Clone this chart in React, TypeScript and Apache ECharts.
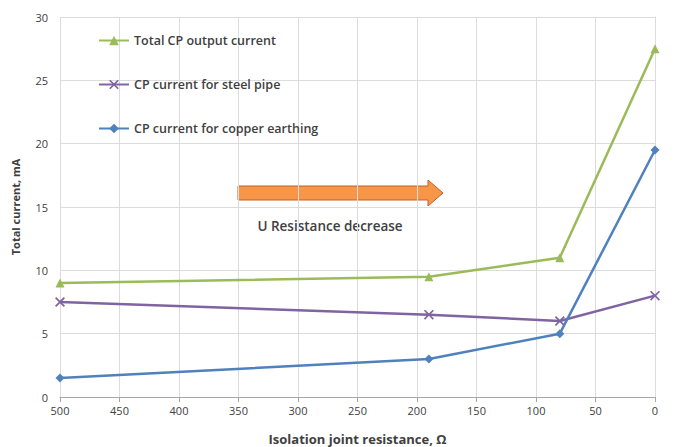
import React, { useEffect, useRef } from "react";
import * as echarts from "echarts";

const resistance = [500, 190, 80, 0];
const totalCurrent = [9.0, 9.5, 11.0, 27.5];
const steelPipe = [7.5, 6.5, 6.0, 8.0];
const copperEarthing = [1.5, 3.0, 5.0, 19.5];
const seriesNames = [
  "Total CP output current",
  "CP current for steel pipe",
  "CP current for copper earthing",
];

const X_SYMBOL =
  "path://M0,1.2L1.2,0L5,3.8L8.8,0L10,1.2L6.2,5L10,8.8L8.8,10L5,6.2L1.2,10L0,8.8L3.8,5Z";

export default function App() {
  const ref = useRef<HTMLDivElement>(null);
  useEffect(() => {
    if (!ref.current) return;
    const chart = echarts.init(ref.current, null, { renderer: "svg" });
    const font = "'Open Sans', 'Liberation Sans', sans-serif";
    const mk = (vals: number[]) => resistance.map((r, i) => [r, vals[i]]);
    chart.setOption({
      animation: false,
      backgroundColor: "#ffffff",
      textStyle: { fontFamily: font },
      grid: { left: 60, right: 20, top: 17, bottom: 50, outerBoundsMode: "none", containLabel: false },
      legend: {
        orient: "vertical",
        left: 98,
        top: 34,
        padding: 0,
        itemWidth: 30,
        itemHeight: 12,
        itemGap: 31,
        data: seriesNames,
        textStyle: { fontFamily: font, fontSize: 12.5, color: "#404040", fontWeight: 600 },
      },
      xAxis: {
        type: "value",
        inverse: true,
        min: 0,
        max: 500,
        interval: 50,
        name: "Isolation joint resistance, Ω",
        nameLocation: "middle",
        nameGap: 35,
        nameTextStyle: { fontFamily: font, fontSize: 13, fontWeight: "bold", color: "#404040" },
        axisLine: { show: true, lineStyle: { color: "#a6a6a6", width: 1 } },
        axisTick: { show: true, length: 5, lineStyle: { color: "#a6a6a6" } },
        axisLabel: { fontFamily: font, fontSize: 11, color: "#404040", margin: 8 },
        splitLine: { show: true, lineStyle: { color: "#dcdcdc", width: 1 } },
      },
      yAxis: {
        type: "value",
        min: 0,
        max: 30,
        interval: 5,
        name: "Total current, mA",
        nameLocation: "middle",
        nameGap: 39,
        nameTextStyle: { fontFamily: font, fontSize: 11, fontWeight: "bold", color: "#404040" },
        axisLine: { show: true, lineStyle: { color: "#dcdcdc" } },
        axisTick: { show: false },
        axisLabel: { fontFamily: font, fontSize: 11, color: "#404040", margin: 12 },
        splitLine: { show: true, lineStyle: { color: "#dcdcdc", width: 1 } },
      },
      series: [
        {
          name: seriesNames[0],
          type: "line",
          data: mk(totalCurrent),
          symbol: "triangle",
          symbolSize: 9,
          lineStyle: { color: "#9BBB59", width: 2.5 },
          itemStyle: { color: "#9BBB59" },
        },
        {
          name: seriesNames[1],
          type: "line",
          data: mk(steelPipe),
          symbol: X_SYMBOL,
          symbolSize: 10,
          lineStyle: { color: "#8064A2", width: 2.5 },
          itemStyle: { color: "#8064A2" },
        },
        {
          name: seriesNames[2],
          type: "line",
          data: mk(copperEarthing),
          symbol: "diamond",
          symbolSize: 9,
          lineStyle: { color: "#4F81BD", width: 2.5 },
          itemStyle: { color: "#4F81BD" },
        },
      ],
      graphic: [
        {
          type: "polygon",
          shape: {
            points: [
              [238, 186],
              [428, 186],
              [428, 180],
              [443, 193],
              [428, 206],
              [428, 200],
              [238, 200],
            ],
          },
          style: { fill: "#F79646", stroke: "#C0602A", lineWidth: 1 },
        },
        {
          type: "text",
          x: 330,
          y: 226,
          style: {
            text: "U Resistance decrease",
            fontFamily: font,
            fontSize: 13.5,
            fontWeight: 600,
            fill: "#404040",
            align: "center",
            verticalAlign: "middle",
          },
        },
      ],
    });
    return () => chart.dispose();
  }, []);
  return <div ref={ref} style={{ width: 675, height: 447, position: "absolute", left: 0, top: 0 }} />;
}
